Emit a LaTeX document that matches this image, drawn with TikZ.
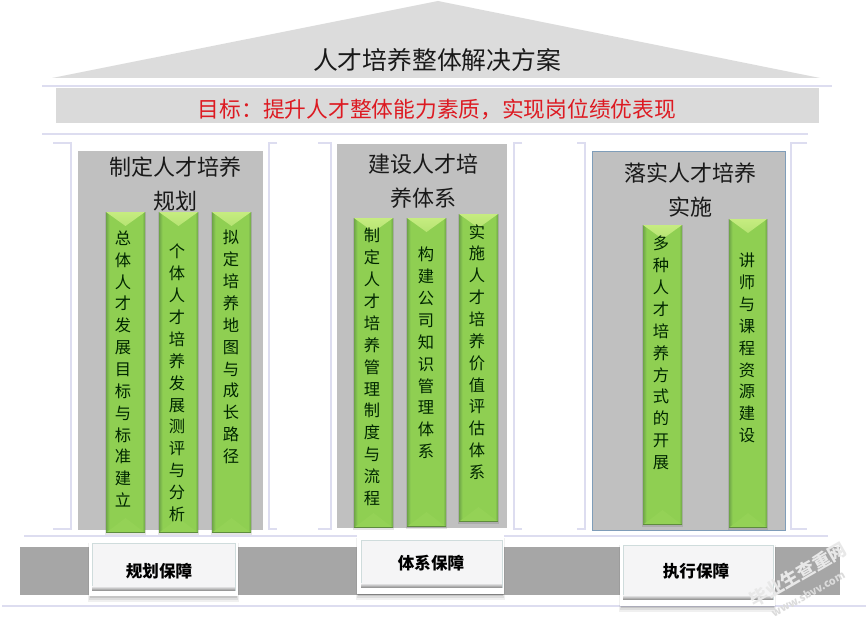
\documentclass[tikz,border=0pt]{standalone}
\usepackage{fontspec}
\setmainfont{Noto Sans CJK SC}
\usetikzlibrary{calc}
\definecolor{roofgray}{HTML}{DCDCDC}
\definecolor{bandgray}{HTML}{DADADA}
\definecolor{panelgray}{HTML}{C0C0C0}
\definecolor{bargray}{HTML}{A6A6A6}
\definecolor{lilac}{HTML}{DDDDF0}
\definecolor{grnmain}{HTML}{8FCF52}
\definecolor{grndark}{HTML}{6FA548}
\definecolor{grnlite}{HTML}{C6EC80}
\definecolor{grnbot}{HTML}{94D256}
\definecolor{redtxt}{HTML}{DD1A22}
\definecolor{panelblue}{HTML}{7F9DB9}
\definecolor{btnface}{HTML}{F5F5F6}
\definecolor{btnedge}{HTML}{CFDCDC}
\tikzset{
  x=0.75pt,y=-0.75pt,
  rule/.style={draw=lilac,line width=1.1pt},
  bracket/.style={draw=lilac,line width=1.3pt},
  panel/.style={fill=panelgray},
  head/.style={font=\fontsize{16.5}{25}\selectfont,align=center,text=black!90,inner sep=0pt},
  coltext/.style={font=\fontsize{12.2}{16.4}\selectfont,align=center,text=black!85!green,inner sep=0pt},
  btntext/.style={font=\fontsize{12.4}{14}\selectfont\bfseries,text=black,inner sep=0pt},
  wmark/.style={font=\fontsize{13.5}{15}\selectfont\bfseries,inner sep=0pt,rotate=30},
  wmsub/.style={font=\fontsize{8}{9}\selectfont\bfseries,inner sep=0pt,rotate=29,text=white!72!gray},
}
% green bar: #1 x1, #2 y1, #3 x2, #4 y2
\newcommand{\greenbar}[4]{%
  \fill[black,opacity=.10] (#1-1,#2) rectangle (#3+1,#4+3);
  \fill[grnmain] (#1,#2) rectangle (#3,#4);
  \shade[left color=grndark,right color=grnmain] (#1,#2) rectangle (#1+3.5,#4);
  \shade[left color=grnmain,right color=grndark] (#3-3,#2) rectangle (#3,#4);
  \shade[top color=grnlite,bottom color=grnlite!70!grnmain] (#1,#2) -- (#3,#2) -- ({(#1+#3)/2},#2+14) -- cycle;
  \fill[grnbot] (#1+1,#4) -- (#3-1,#4) -- ({(#1+#3)/2},#4-14) -- cycle;
  \draw[grndark!85!black,line width=.7pt] (#1,#4) -- (#3,#4);
}
% button: outer x1 y1 x2 y2, inner x1 y1 x2 y2
\newcommand{\button}[8]{%
  \fill[black,opacity=.06] (#1-1,#2+3) rectangle (#3+1,#4+6);
  \fill[black,opacity=.08] (#1,#2+3) rectangle (#3,#4+4);
  \fill[black,opacity=.10] (#1+1,#2+3) rectangle (#3-1,#4+2);
  \fill[white] (#1,#2) rectangle (#3,#4);
  \fill[btnface] (#5,#6) rectangle (#7,#8);
  \draw[btnedge,line width=.6pt] (#5,#6) rectangle (#7,#8);
  \shade[top color=btnface,bottom color=gray!80] (#5,#8-4) rectangle (#7,#8);
}
\begin{document}
\begin{tikzpicture}
\useasboundingbox (0,0) rectangle (866,624);
\fill[white] (0,0) rectangle (866,624);
% roof and band
\fill[roofgray] (52,78) -- (438,1) -- (820,78) -- cycle;
\node[inner sep=0pt,font=\fontsize{18.6}{22}\selectfont,text=black!90] (title) at (437,60) {人才培养整体解决方案};
\draw[rule] (42,86) -- (832,86);
\fill[bandgray] (56,88) rectangle (819,123);
\node[inner sep=0pt,font=\fontsize{16.3}{20}\selectfont,text=redtxt] (goal) at (437,109) {目标：提升人才整体能力素质，实现岗位绩优表现};
\draw[rule] (42,134) -- (808,134);
% pillar brackets
\draw[bracket] (53,143) -- (71,143) -- (71,529) -- (53,529);
\draw[bracket] (277,143) -- (269,143) -- (269,529) -- (277,529);
\draw[bracket] (318,143) -- (331,143) -- (331,529) -- (318,529);
\draw[bracket] (522,143) -- (514,143) -- (514,529) -- (522,529);
\draw[bracket] (577,143) -- (585,143) -- (585,529) -- (577,529);
\draw[bracket] (807,143) -- (791,143) -- (791,529) -- (807,529);
% panels
\fill[panel] (78,151) rectangle (263,530);
\fill[panel] (337,144) rectangle (507,528);
\draw[panel,draw=panelblue,line width=.7pt] (592,151) rectangle (785,530);
\node[head] (h1) at (175,184) {制定人才培养\\规划};
\node[head] (h2) at (423,181) {建设人才培\\养体系};
\node[head] (h3) at (690,190) {落实人才培养\\实施};
% left columns
\greenbar{106}{212}{145}{532}
\greenbar{159}{212}{198}{532}
\greenbar{212}{212}{251}{532}
\node[coltext] (c1) at (123,369) {总\\体\\人\\才\\发\\展\\目\\标\\与\\标\\准\\建\\立};
\node[coltext] (c2) at (177,383) {个\\体\\人\\才\\培\\养\\发\\展\\测\\评\\与\\分\\析};
\node[coltext] (c3) at (231,347) {拟\\定\\培\\养\\地\\图\\与\\成\\长\\路\\径};
% middle columns
\greenbar{354}{218}{393}{527}
\greenbar{407}{218}{446}{526}
\greenbar{459}{214}{498}{521}
\node[coltext] (c4) at (372,367) {制\\定\\人\\才\\培\\养\\管\\理\\制\\度\\与\\流\\程};
\node[coltext] (c5) at (426,353) {构\\建\\公\\司\\知\\识\\管\\理\\体\\系};
\node[coltext] (c6) at (477,352) {实\\施\\人\\才\\培\\养\\价\\值\\评\\估\\体\\系};
% right columns
\greenbar{643}{225}{682}{524}
\greenbar{729}{219}{767}{527}
\node[coltext] (c7) at (661,353) {多\\种\\人\\才\\培\\养\\方\\式\\的\\开\\展};
\node[coltext] (c8) at (747,348) {讲\\师\\与\\课\\程\\资\\源\\建\\设};
% base
\draw[rule] (24,536) -- (828,536);
\fill[bargray] (20,547) rectangle (840,595);
\draw[rule] (2,606) -- (866,606);
\button{89}{540}{238}{596}{92}{543}{235}{590}
\button{357}{535}{504}{594}{361}{540}{502}{587}
\button{620}{542}{775}{606}{623}{545}{773}{599}
\node[btntext] (b1) at (159,571) {规划保障};
\node[btntext] (b2) at (431,563) {体系保障};
\node[btntext] (b3) at (696,571) {执行保障};
% watermark
\node[wmark,text=white!82!gray] (wm1) at (798,575) {毕业生查重网};
\node[wmsub] (wm2) at (808,594) {www.sbvv.com};
\end{tikzpicture}
\end{document}
